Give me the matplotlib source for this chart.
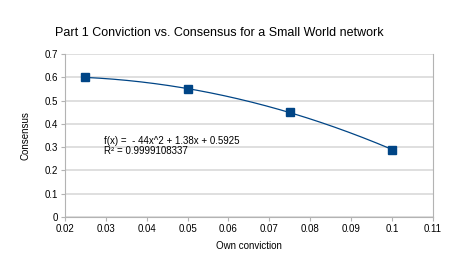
import matplotlib.pyplot as plt
import numpy as np

plt.rcParams['font.family'] = ['Liberation Sans', 'DejaVu Sans']

# data
conviction = [0.025, 0.05, 0.075, 0.1]
consensus = [0.60, 0.55, 0.45, 0.29]
x_ticks = [0.02, 0.03, 0.04, 0.05, 0.06, 0.07, 0.08, 0.09, 0.1, 0.11]
x_tick_labels = ['0.02', '0.03', '0.04', '0.05', '0.06', '0.07', '0.08', '0.09', '0.1', '0.11']
y_ticks = [0, 0.1, 0.2, 0.3, 0.4, 0.5, 0.6, 0.7]
y_tick_labels = ['0', '0.1', '0.2', '0.3', '0.4', '0.5', '0.6', '0.7']
fit_text = 'f(x) =  - 44x^2 + 1.38x + 0.5925\nR² = 0.9999108337'

blue = '#004586'
grey = '#b3b3b3'

fig = plt.figure(figsize=(4.59, 2.68), dpi=100)
ax = fig.add_axes([0.1416, 0.190, 0.8014, 0.6085])

# polynomial trend line through the points
coef = np.polyfit(conviction, consensus, 2)
xs = np.linspace(conviction[0], conviction[-1], 200)
ax.plot(xs, np.polyval(coef, xs), color=blue, lw=0.9, zorder=2)
ax.plot(conviction, consensus, 's', color=blue, ms=5.5, zorder=3)

ax.set_xlim(0.02, 0.11)
ax.set_ylim(0, 0.7)
ax.set_xticks(x_ticks)
ax.set_xticklabels(x_tick_labels)
ax.set_yticks(y_ticks)
ax.set_yticklabels(y_tick_labels)
ax.tick_params(labelsize=7, length=3, color=grey, width=0.8, pad=2)
ax.yaxis.grid(True, color='#d9d9d9', lw=1.2)
ax.set_axisbelow(True)
for side in ['left', 'bottom', 'right']:
    ax.spines[side].set_color(grey)
    ax.spines[side].set_linewidth(0.8)
ax.spines['top'].set_visible(False)

ax.set_xlabel('Own conviction', fontsize=7, labelpad=5)
ax.set_ylabel('Consensus', fontsize=7, labelpad=10)
fig.text(0.478, 0.877, 'Part 1 Conviction vs. Consensus for a Small World network',
         fontsize=9, ha='center', va='center')
ax.text(0.02955, 0.305, fit_text, fontsize=7, va='center', linespacing=1.0)

fig.savefig('out.png', dpi=100)
